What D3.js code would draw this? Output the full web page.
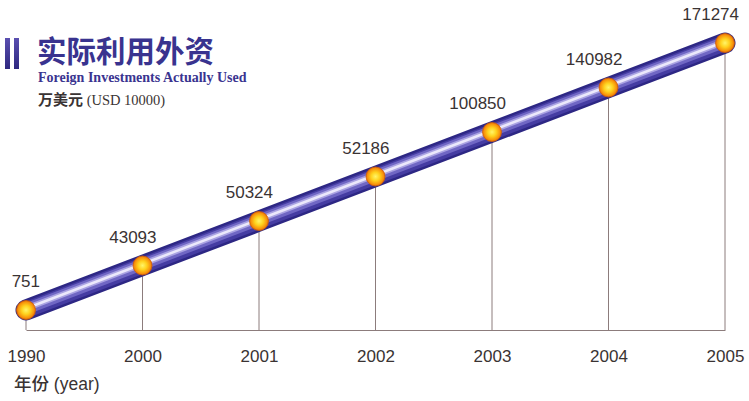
<!DOCTYPE html>
<html><head><meta charset="utf-8">
<script src="https://cdn.jsdelivr.net/npm/d3@7/dist/d3.min.js"></script>
<style>
html,body{margin:0;padding:0;background:#fff;}
svg{display:block;}
</style></head>
<body>
<svg id="chart" width="749" height="401"></svg>
<script>
const years = ["1990","2000","2001","2002","2003","2004","2005"];
const values = [751, 43093, 50324, 52186, 100850, 140982, 171274];
const titleZh = "实际利用外资";
const titleEn = "Foreign Investments Actually Used";
const unitZh = "万美元";
const unitEn = "(USD 10000)";
const axisZh = "年份";
const axisEn = "(year)";

const svg = d3.select("#chart");
const baseY = 330;
const textColor = "#3a3333";

const x = d3.scalePoint().domain(years).range([26, 725]);
// vertical placement follows the rank of each value (as in the original artwork)
const rank = d3.scaleLinear().domain([0, values.length - 1]).range([310, 43]);
const data = years.map((yr, i) => ({yr, v: values[i], rankIdx: values.filter(d => d < values[i]).length}));
const px = d => x(d.yr);
const py = d => rank(d.rankIdx);

const defs = svg.append("defs");
const bg = defs.append("linearGradient").attr("id","barGrad").attr("x1",0).attr("x2",0).attr("y1",0).attr("y2",1);
bg.append("stop").attr("offset","0%").attr("stop-color","#5a4fb0");
bg.append("stop").attr("offset","100%").attr("stop-color","#2e2880");
const rg = defs.append("radialGradient").attr("id","dotGrad").attr("cx","50%").attr("cy","50%").attr("r","50%");
rg.append("stop").attr("offset","0%").attr("stop-color","#fff56a");
rg.append("stop").attr("offset","45%").attr("stop-color","#ffd21e");
rg.append("stop").attr("offset","85%").attr("stop-color","#f7910a");
rg.append("stop").attr("offset","100%").attr("stop-color","#e06a08");

// title block
svg.append("rect").attr("x",5).attr("y",38).attr("width",5).attr("height",31).attr("fill","url(#barGrad)");
svg.append("rect").attr("x",14).attr("y",38).attr("width",5).attr("height",31).attr("fill","url(#barGrad)");
svg.append("text").attr("x",37).attr("y",62).text(titleZh)
  .attr("font-family","'Noto Sans CJK SC', sans-serif").attr("font-weight","bold")
  .attr("font-size",29.5).attr("fill","#39338f");
svg.append("text").attr("x",38).attr("y",82).text(titleEn)
  .attr("font-family","'Liberation Serif', serif").attr("font-weight","bold")
  .attr("font-size",14).attr("fill","#3a3490");
const u = svg.append("text").attr("x",38).attr("y",105).attr("fill",textColor);
u.append("tspan").text(unitZh).attr("font-family","'Noto Sans CJK SC', sans-serif").attr("font-weight","bold").attr("font-size",15);
u.append("tspan").text(" " + unitEn).attr("font-family","'Liberation Serif', serif").attr("font-size",14.5);

// x axis (baseline + year labels)
const ax = svg.append("g").attr("transform",`translate(0,${baseY})`)
  .call(d3.axisBottom(x).tickSize(0).tickSizeOuter(0).tickPadding(20));
ax.select(".domain").attr("stroke","#8c7c7c").attr("stroke-width",1);
ax.selectAll("text").attr("font-family","'Liberation Sans', Arial, sans-serif")
  .attr("font-size",17).attr("fill",textColor);

const a = svg.append("text").attr("x",14).attr("y",390).attr("fill",textColor).attr("font-size",17.5);
a.append("tspan").text(axisZh).attr("font-family","'Noto Sans CJK SC', sans-serif").attr("font-weight","500");
a.append("tspan").text(" " + axisEn).attr("font-family","'Liberation Sans', Arial, sans-serif");

// drop lines
svg.append("g").selectAll("line").data(data).join("line")
  .attr("x1",px).attr("x2",px).attr("y1",py).attr("y2",baseY)
  .attr("stroke","#8c7c7c").attr("stroke-width",1);

// tube
const line = d3.line().x(px).y(py).curve(d3.curveLinear);
const tube = [
  {w:21, c:"#2d2784", o:0},
  {w:16, c:"#453c a2".replace(" ",""), o:0},
  {w:11, c:"#7067c4", o:-1},
  {w:6,  c:"#aaa3e2", o:-1.5},
  {w:2.5,c:"#ebe8fb", o:-1.5}
];
svg.append("g").selectAll("path").data(tube).join("path")
  .attr("d", line(data))
  .attr("transform", d => `translate(0,${d.o})`)
  .attr("fill","none").attr("stroke", d => d.c).attr("stroke-width", d => d.w)
  .attr("stroke-linecap","round").attr("stroke-linejoin","round");

// dots
svg.append("g").selectAll("circle").data(data).join("circle")
  .attr("cx",px).attr("cy",py).attr("r",9.5)
  .attr("fill","url(#dotGrad)").attr("stroke","#d0600a").attr("stroke-width",0.8);

// value labels
svg.append("g").selectAll("text").data(data).join("text")
  .attr("x", d => px(d) + 14).attr("y", d => py(d) - 23)
  .attr("text-anchor","end")
  .attr("font-family","'Liberation Sans', Arial, sans-serif")
  .attr("font-size",17).attr("fill",textColor)
  .text(d => d.v);
</script>
</body></html>
